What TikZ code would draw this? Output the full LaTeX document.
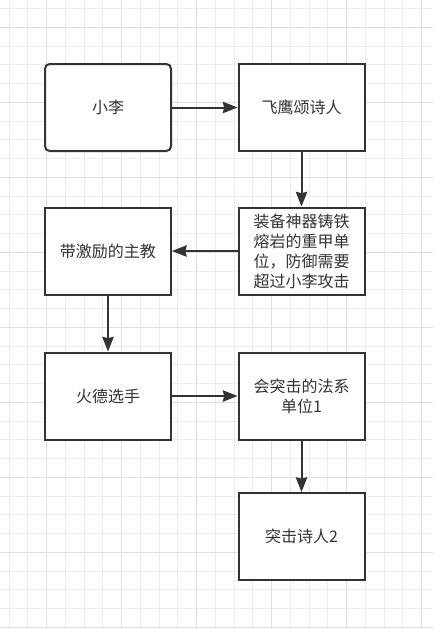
\documentclass[tikz,border=0pt]{standalone}
\usepackage{fontspec}
\usetikzlibrary{arrows.meta}
\newfontfamily\cjk{Noto Sans CJK SC}

\begin{document}
\begin{tikzpicture}[x=0.75pt, y=-0.75pt,
    box/.style={draw=black!80, line width=1.5pt, fill=white, minimum width=94.5pt,
        minimum height=65.25pt, inner sep=2pt, align=center, text=black!80,
        font=\cjk\fontsize{12}{15}\selectfont},
    link/.style={draw=black!80, line width=1.5pt, -{Stealth[length=11pt, width=8.5pt, inset=1pt]}}]
    \useasboundingbox (0,0) rectangle (433,629);
    \fill[white] (0,0) rectangle (433,629);

    % Grid
    \foreach \k in {0,...,22}
        \draw[black!7, line width=0.75pt] ({9.2+18.75*\k},0) -- ({9.2+18.75*\k},629);
    \foreach \k in {0,...,33}
        \draw[black!7, line width=0.75pt] (0,{8.5+18.75*\k}) -- (433,{8.5+18.75*\k});
    \foreach \k in {2,6,...,22}
        \draw[black!12, line width=0.75pt] ({9.2+18.75*\k},0) -- ({9.2+18.75*\k},629);
    \foreach \k in {1,5,...,33}
        \draw[black!12, line width=0.75pt] (0,{8.5+18.75*\k}) -- (433,{8.5+18.75*\k});

    % Boxes
    \node[box, rounded corners=3.5pt] (xiaoli) at (108,107.5) {小李};
    \node[box] (feiying) at (301.5,107.5) {飞鹰颂诗人};
    \node[box] (heavy) at (301.5,251) {装备神器铸铁\\熔岩的重甲单\\位，防御需要\\超过小李攻击};
    \node[box] (bishop) at (108,251) {带激励的主教};
    \node[box] (huode) at (108,396) {火德选手};
    \node[box] (mage) at (301.5,396) {会突击的法系\\单位1};
    \node[box] (poet) at (301.5,536.5) {突击诗人2};

    % Links
    \draw[link] (xiaoli) -- (feiying);
    \draw[link] (feiying) -- (heavy);
    \draw[link] (heavy) -- (bishop);
    \draw[link] (bishop) -- (huode);
    \draw[link] (huode) -- (mage);
    \draw[link] (mage) -- (poet);
\end{tikzpicture}
\end{document}
